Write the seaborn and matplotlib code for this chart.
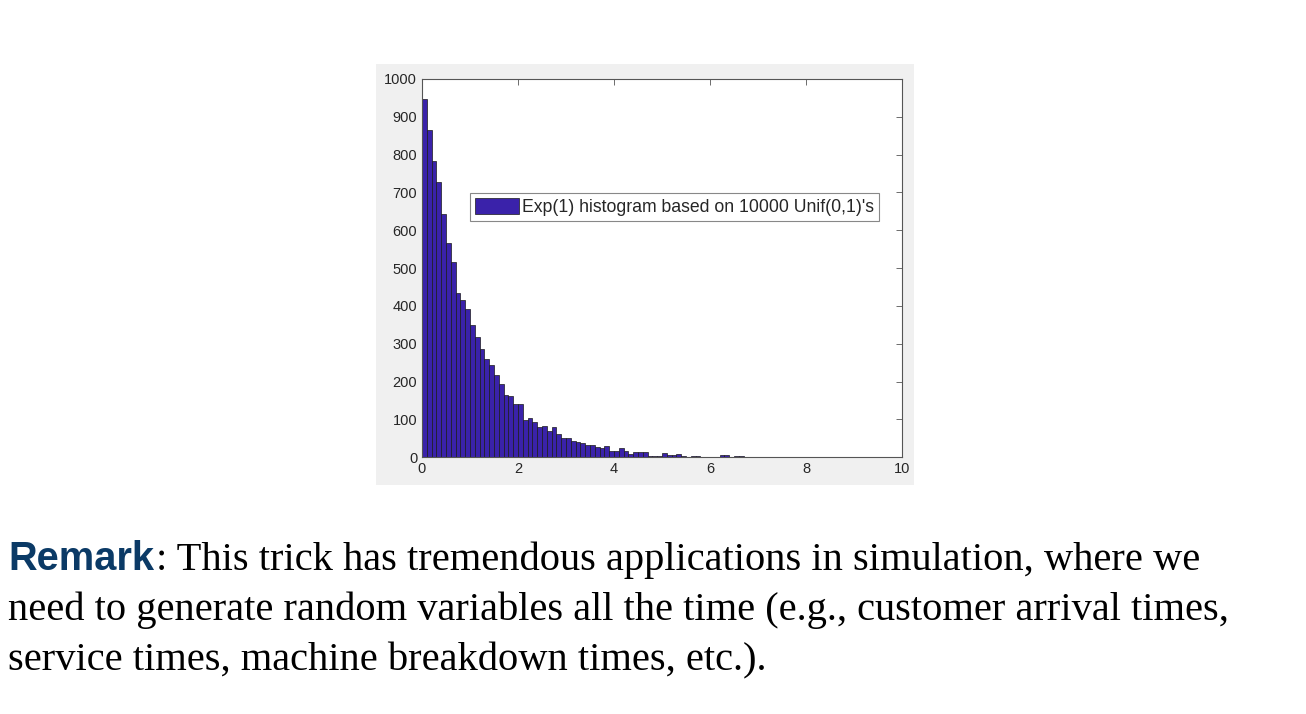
import numpy as np
import pandas as pd
import matplotlib
matplotlib.use('Agg')
import matplotlib.pyplot as plt
import seaborn as sns
from matplotlib.patches import Patch, Rectangle

# bin counts, bins of width 0.1 from 0 to 10
counts = [948, 865, 784, 728, 644, 567, 516, 435, 417, 392,
          351, 318, 286, 259, 243, 217, 195, 164, 162, 141,
          141, 99, 103, 92, 80, 82, 70, 79, 61, 52,
          52, 43, 40, 39, 33, 33, 28, 24, 31, 16,
          16, 24, 17, 9, 13, 13, 13, 4, 4, 4,
          11, 6, 6, 9, 4, 2, 4, 4, 2, 2,
          2, 1, 5, 5, 1, 3, 3, 1, 0, 1,
          0, 1, 2, 0, 1, 0, 0, 1, 0, 0,
          0, 0, 0, 0, 1, 0, 0, 0, 0, 0,
          0, 1, 0, 0, 0, 0, 0, 0, 0, 0]
bin_width = 0.1
x_ticks = [0, 2, 4, 6, 8, 10]
y_ticks = list(range(0, 1001, 100))
legend_label = "Exp(1) histogram based on 10000 Unif(0,1)'s"
remark_head = "Remark"
remark_lines = [": This trick has tremendous applications in simulation, where we",
                "need to generate random variables all the time (e.g., customer arrival times,",
                "service times, machine breakdown times, etc.)."]

centers = (np.arange(len(counts)) + 0.5) * bin_width
df = pd.DataFrame({'x': centers, 'count': counts})

sns.set_style('white')
plt.rcParams['font.family'] = ['Liberation Sans', 'DejaVu Sans']

bar_color = '#3a22aa'
W, H = 1306, 714
fig = plt.figure(figsize=(W / 100, H / 100), dpi=100)
fig.patch.set_facecolor('white')

# grey matlab figure panel, kept behind the axes
fig.patches.append(Rectangle((376 / W, 1 - 485 / H), 538 / W, 421 / H,
                             transform=fig.transFigure, facecolor='#f0f0f0',
                             edgecolor='none', zorder=-10))

ax = fig.add_axes([422 / W, 1 - 457.3 / H, 480 / W, 378.3 / H])
ax.set_zorder(5)
ax.set_facecolor('white')
sns.histplot(data=df, x='x', weights='count', binwidth=bin_width,
             binrange=(0, len(counts) * bin_width), ax=ax,
             color=bar_color, alpha=1, edgecolor='#1a1a1a', linewidth=0.5)
ax.set_xlim(0, 10)
ax.set_ylim(0, 1000)
ax.set_xticks(x_ticks)
ax.set_yticks(y_ticks)
ax.set_xlabel('')
ax.set_ylabel('')
ax.tick_params(direction='in', top=True, right=True, length=4, width=0.6,
               color='#555555', labelcolor='#262626', labelsize=10.5)
for s in ax.spines.values():
    s.set_visible(True)
    s.set_color('#555555')
    s.set_linewidth(0.8)

handles = [Patch(facecolor=bar_color, edgecolor='#1a1a1a', linewidth=0.5)]
leg = ax.legend(handles, [legend_label], loc='upper left',
                bbox_to_anchor=(0.1, 0.699), borderaxespad=0, fontsize=12.7,
                handlelength=2.5, handleheight=1.0, handletextpad=0.12,
                borderpad=0.3, fancybox=False, framealpha=1)
leg.get_frame().set_edgecolor('#888888')
leg.get_frame().set_linewidth(0.8)

# remark text below the chart
fs = 29.2
ys = [1 - 570 / H, 1 - 620 / H, 1 - 670 / H]
head = fig.text(8 / W, ys[0], remark_head, fontsize=28.7, fontweight='bold',
                color='#0b3a66', family=['Liberation Sans'], va='baseline')
renderer = fig.canvas.get_renderer()
bb = head.get_window_extent(renderer)
fig.text((bb.x1 + 2) / W, ys[0], remark_lines[0], fontsize=fs,
         family=['Liberation Serif'], color='black', va='baseline')
for y, line in zip(ys[1:], remark_lines[1:]):
    fig.text(8 / W, y, line, fontsize=fs, family=['Liberation Serif'],
             color='black', va='baseline')

fig.savefig('out.png', dpi=100, facecolor='white')
